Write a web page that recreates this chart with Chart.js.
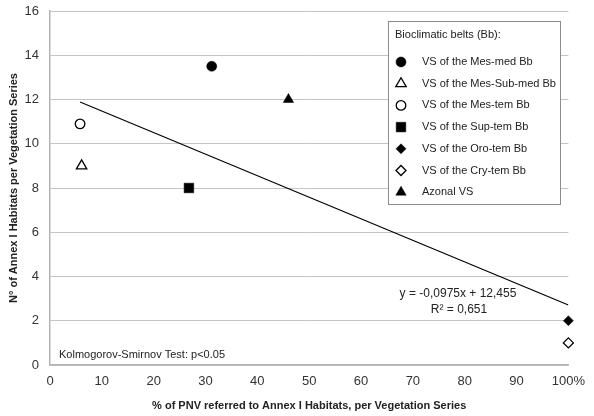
<!DOCTYPE html>
<html>
<head>
<meta charset="utf-8">
<script src="https://cdn.jsdelivr.net/npm/chart.js@4.4.1/dist/chart.umd.min.js"></script>
<style>
html, body { margin: 0; padding: 0; background: #fff; }
#wrap { width: 594px; height: 416px; }
</style>
</head>
<body>
<div id="wrap"><canvas id="myScatter" width="594" height="416"></canvas></div>
<script>
// series (one point per bioclimatic belt)
const seriesLabels = [
    'VS of the Mes-med Bb',
    'VS of the Mes-Sub-med Bb',
    'VS of the Mes-tem Bb',
    'VS of the Sup-tem Bb',
    'VS of the Oro-tem Bb',
    'VS of the Cry-tem Bb',
    'Azonal VS'
];
const seriesX = [31.2, 6.1, 5.8, 26.8, 100, 100, 46];
const seriesY = [13.5, 9, 10.9, 8, 2, 1, 12];
const markerStyles = ['circle', 'triangle', 'circle', 'rect', 'rectRot', 'rectRot', 'triangle'];
const markerFilled = [true, false, false, true, true, false, true];
const markerSizes = [5, 6, 4.8, 6.8, 5, 5, 6];

// trendline end points
const trendX = [5.8, 100];
const trendY = [11.89, 2.71];

const xTicks = [0, 10, 20, 30, 40, 50, 60, 70, 80, 90, 100];
const yTicks = [0, 2, 4, 6, 8, 10, 12, 14, 16];

const FONT = "'Liberation Sans', Arial, Helvetica, sans-serif";

const datasets = seriesLabels.map((label, i) => ({
    label: label,
    data: [{ x: seriesX[i], y: seriesY[i] }],
    pointStyle: markerStyles[i],
    pointRadius: markerSizes[i],
    pointHoverRadius: markerSizes[i],
    backgroundColor: markerFilled[i] ? '#000' : '#fff',
    borderColor: '#000',
    borderWidth: markerFilled[i] ? 0.5 : 1.3,
    clip: false
}));

datasets.unshift({
    type: 'line',
    label: 'trend',
    data: trendX.map((x, i) => ({ x: x, y: trendY[i] })),
    borderColor: '#000',
    borderWidth: 1.2,
    pointRadius: 0,
    fill: false
});

// legend box + text labels drawn on top of the plot
const overlayPlugin = {
    id: 'overlay',
    afterDatasetsDraw(chart) {
        const ctx = chart.ctx;
        ctx.save();

        // legend box
        ctx.fillStyle = '#fff';
        ctx.strokeStyle = '#8c8c8c';
        ctx.lineWidth = 1;
        ctx.fillRect(388, 21, 172, 183);
        ctx.strokeRect(388.5, 21.5, 172, 183);

        ctx.fillStyle = '#222';
        ctx.font = '11px ' + FONT;
        ctx.textAlign = 'left';
        ctx.textBaseline = 'middle';
        ctx.fillText('Bioclimatic belts (Bb):', 395, 35);

        seriesLabels.forEach((label, i) => {
            const y = 62 + i * 21.7;
            const ds = chart.data.datasets[i + 1];
            ctx.fillStyle = ds.backgroundColor;
            ctx.strokeStyle = ds.borderColor;
            ctx.lineWidth = ds.borderWidth;
            Chart.helpers.drawPoint(ctx, {
                pointStyle: ds.pointStyle,
                radius: ds.pointRadius,
                borderWidth: ds.borderWidth
            }, 401, y);
            ctx.fillStyle = '#222';
            ctx.fillText(label, 422, y);
        });

        // regression equation
        ctx.font = '12px ' + FONT;
        ctx.textAlign = 'center';
        ctx.fillStyle = '#222';
        ctx.fillText('y = -0,0975x + 12,455', 458, 294);
        ctx.fillText('R\u00b2 = 0,651', 459, 310);

        // test note
        ctx.font = '11px ' + FONT;
        ctx.textAlign = 'left';
        ctx.fillText('Kolmogorov-Smirnov Test: p<0.05', 59, 355);

        ctx.restore();
    }
};

const ctxScatter = document.getElementById('myScatter').getContext('2d');
const myScatter = new Chart(ctxScatter, {
    type: 'scatter',
    data: { datasets: datasets },
    plugins: [overlayPlugin],
    options: {
        responsive: false,
        animation: false,
        layout: { padding: { left: 0, right: 22, top: 11, bottom: 0 } },
        plugins: {
            legend: { display: false },
            tooltip: { enabled: false }
        },
        scales: {
            x: {
                type: 'linear',
                min: 0,
                max: 100,
                afterFit: s => { s.height = 51; },
                afterBuildTicks: s => { s.ticks = xTicks.map(v => ({ value: v })); },
                grid: { display: false, drawTicks: false },
                border: { display: true, color: '#b3b3b3', width: 1.5 },
                ticks: {
                    padding: 9,
                    color: '#333',
                    font: { family: FONT, size: 13 },
                    maxRotation: 0,
                    callback: v => v === 100 ? '100%' : v
                },
                title: {
                    display: true,
                    text: '% of PNV referred to Annex I Habitats, per Vegetation Series',
                    color: '#222',
                    font: { family: FONT, size: 11, weight: 'bold' },
                    padding: { top: 4, bottom: 3 }
                }
            },
            y: {
                min: 0,
                max: 16,
                afterFit: s => { s.width = 50; s.paddingTop = 0; s.paddingBottom = 0; },
                afterBuildTicks: s => { s.ticks = yTicks.map(v => ({ value: v })); },
                grid: { color: '#c4c4c4', lineWidth: 1, drawTicks: false },
                border: { display: true, color: '#b3b3b3', width: 1.5 },
                ticks: {
                    padding: 11,
                    color: '#333',
                    font: { family: FONT, size: 13 }
                },
                title: {
                    display: true,
                    text: 'N\u00b0 of Annex I Habitats per Vegetation Series',
                    color: '#222',
                    font: { family: FONT, size: 11, weight: 'bold' },
                    padding: { top: 7, bottom: 7 }
                }
            }
        }
    }
});
</script>
</body>
</html>
